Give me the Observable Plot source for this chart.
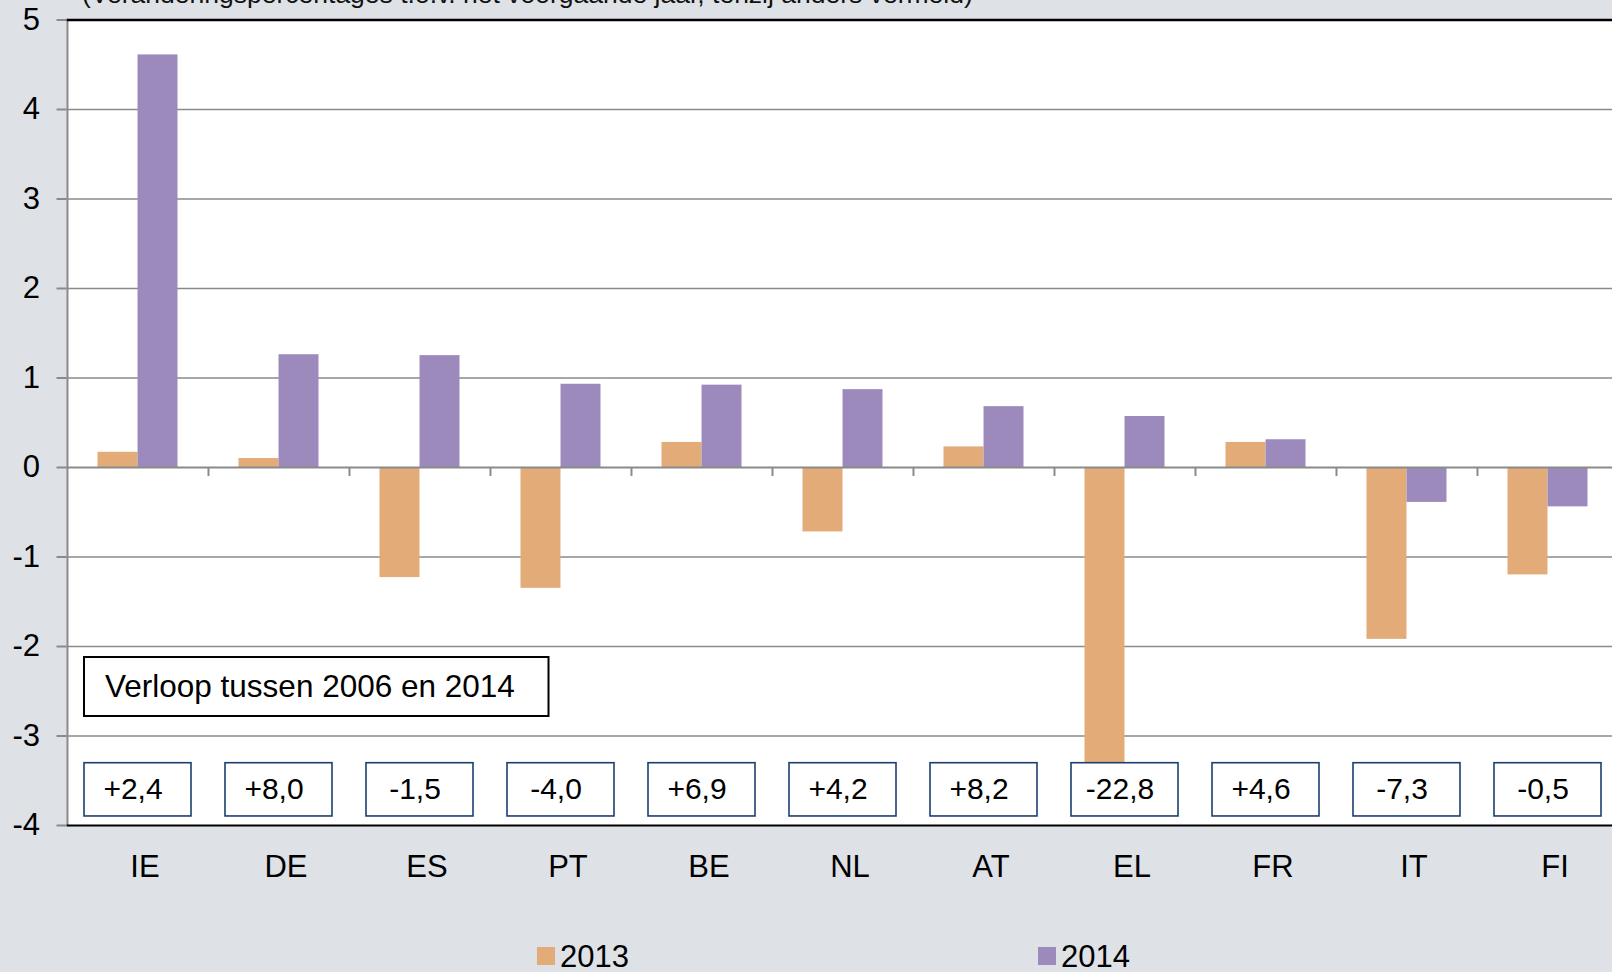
<!DOCTYPE html>
<html><head><meta charset="utf-8">
<script src="https://cdn.jsdelivr.net/npm/d3@7"></script>
<script src="https://cdn.jsdelivr.net/npm/@observablehq/plot@0.6"></script>
<style>
html,body{margin:0;padding:0;background:#dee2e7;}
#wrap{position:relative;width:1612px;height:972px;overflow:hidden;font-family:"Liberation Sans",Arial,sans-serif;}
#sub{position:absolute;left:82px;top:-19.5px;font-size:26.5px;line-height:26px;white-space:nowrap;color:#111;}
#chart{position:absolute;left:0;top:0;}
.leg{position:absolute;top:940.5px;height:31px;line-height:31px;font-size:31px;display:flex;align-items:center;color:#000;}
.sw{width:18px;height:18px;margin-right:5px;}
</style></head><body>
<div id="wrap"><div id="chart"></div><div id="sub"></div><div id="legend"></div></div>
<script>
const countries = ["IE","DE","ES","PT","BE","NL","AT","EL","FR","IT","FI"];
const v2013 = [0.17,0.10,-1.23,-1.35,0.28,-0.72,0.23,-3.80,0.28,-1.92,-1.20];
const v2014 = [4.61,1.26,1.25,0.93,0.92,0.87,0.68,0.57,0.31,-0.39,-0.44];
const change0614 = ["+2,4","+8,0","-1,5","-4,0","+6,9","+4,2","+8,2","-22,8","+4,6","-7,3","-0,5"];
const yTicks = [-4,-3,-2,-1,0,1,2,3,4,5];
const gridTicks = [-3,-2,-1,1,2,3,4];
const seriesNames = ["2013","2014"];
const seriesColors = ["#e3ab78","#9d8abd"];
const subtitle = "(Veranderingspercentages t.o.v. het voorgaande jaar, tenzij anders vermeld)";
const boxTitle = "Verloop tussen 2006 en 2014";

const rows2013 = countries.map((c,i)=>({country:c, v:v2013[i]}));
const rows2014 = countries.map((c,i)=>({country:c, v:v2014[i]}));
const boxRows = countries.map((c,i)=>({country:c, label:change0614[i]}));

const half = 141.05/2;
const chart = Plot.plot({
  width: 1612,
  height: 900,
  marginLeft: 66.5,
  marginRight: 0,
  marginTop: 19.5,
  marginBottom: 75,
  style: {background:"transparent", color:"black", fontFamily:"'Liberation Sans', Arial, sans-serif"},
  x: {domain: countries, range:[66.5, 1618], padding:0, label:null, axis:null},
  y: {domain:[-4,5], label:null, axis:null},
  marks: [
    Plot.frame({fill:"white", stroke:"none"}),
    Plot.ruleY(gridTicks, {stroke:"#8a8a8a", strokeWidth:1.6}),
    Plot.barY(rows2013, {x:"country", y:"v", fill:seriesColors[0], insetLeft: 30.5, insetRight: half}),
    Plot.barY(rows2014, {x:"country", y:"v", fill:seriesColors[1], insetLeft: half, insetRight: 30.5}),
    Plot.ruleY([0], {stroke:"#8a8a8a", strokeWidth:2}),
    Plot.ruleX(countries.slice(1), {x: d=>d, y1:0, y2:-0.1, dx:-half, stroke:"#8a8a8a", strokeWidth:2}),
    Plot.barY(boxRows, {x:"country", y1:-3.304, y2:-3.899, fill:"white", stroke:"#1b3f6e", strokeWidth:1.6, insetLeft:17, insetRight:17}),
    Plot.text(boxRows, {x:"country", y:-3.598, text:"label", fontSize:30, dx:-5, fill:"black"}),
    Plot.barY([boxTitle], {x:()=>countries[0], y1:-2.123, y2:-2.782, fill:"white", stroke:"black", strokeWidth:2, insetLeft:17, insetRight:-340.5}),
    Plot.text([boxTitle], {x:()=>countries[0], y:-2.453, text:d=>d, textAnchor:"start", dx:-33, fontSize:31.5, fill:"black"}),
    Plot.ruleX([countries[0]], {x:d=>d, y1:-4, y2:5, dx:-half, stroke:"#8a8a8a", strokeWidth:2}),
    Plot.ruleY([5], {stroke:"black", strokeWidth:2.5}),
    Plot.ruleY([-4], {stroke:"black", strokeWidth:2}),
    Plot.axisY(yTicks, {anchor:"left", tickSize:10, tickPadding:17, fontSize:31, stroke:"#8a8a8a", strokeWidth:2, fill:"black", tickFormat:d=>String(d)}),
    Plot.axisX({anchor:"bottom", tickSize:0, tickPadding:29, fontSize:31, dx:7, fill:"black"})
  ]
});
document.getElementById("chart").appendChild(chart);
document.getElementById("sub").textContent = subtitle;

const legLeft = [537, 1038];
const legend = document.getElementById("legend");
seriesNames.forEach((n,i)=>{
  const d = document.createElement("div");
  d.className = "leg";
  d.style.left = legLeft[i] + "px";
  const sw = document.createElement("div");
  sw.className = "sw";
  sw.style.background = seriesColors[i];
  const t = document.createElement("span");
  t.textContent = n;
  d.appendChild(sw); d.appendChild(t);
  legend.appendChild(d);
});
</script>
</body></html>
